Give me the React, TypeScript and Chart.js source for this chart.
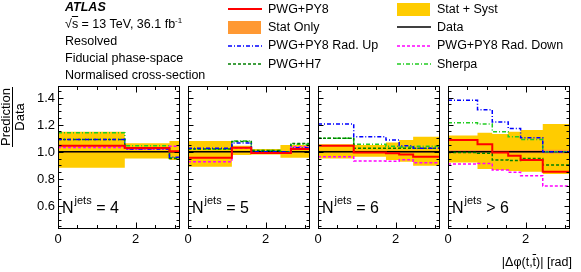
import React, { useEffect, useRef } from 'react';
import { Chart, registerables } from 'chart.js';

Chart.register(...registerables);

const W = 581;
const H = 272;
const FONT = '"Liberation Sans", Arial, Helvetica, sans-serif';

// ---------- axis settings / tick labels ----------
const panelLeft = [58, 188, 318, 448];
const panelWidth = 122;
const plotTop = 86;
const plotBottom = 229;
const Y_MIN = 0.43;
const Y_MAX = 1.485;
const X_MIN = 0;
const X_MAX = 3.1416;
const yTickLabels = [0.6, 0.8, 1.0, 1.2, 1.4];
const xTickLabels = [0, 2];
const njetsLabels = ['= 4', '= 5', '= 6', '> 6'];

// ---------- N_jets = 4 ----------
const edgesNj4 = [0, 1.72, 2.87, 3.1416];
const dataNj4 = [1.0, 1.0, 1.0];
const statHiNj4 = [1.005, 1.004, 1.006];
const statLoNj4 = [0.995, 0.996, 0.994];
const totHiNj4 = [1.148, 1.062, 1.079];
const totLoNj4 = [0.882, 0.951, 0.939];
const pwgPy8Nj4 = [1.045, 1.027, 1.004];
const radUpNj4 = [1.09, 1.02, 0.96];
const radDownNj4 = [1.032, 1.02, 1.04];
const pwgH7Nj4 = [1.09, 1.03, 0.95];
const sherpaNj4 = [1.14, 1.045, 0.955];

// ---------- N_jets = 5 ----------
const edgesNj5 = [0, 1.13, 1.63, 2.38, 2.65, 3.1416];
const dataNj5 = [1.0, 1.0, 1.0, 1.0, 1.0];
const statHiNj5 = [1.006, 1.006, 1.005, 1.006, 1.006];
const statLoNj5 = [0.994, 0.994, 0.995, 0.994, 0.994];
const totHiNj5 = [1.08, 1.044, 1.02, 1.05, 1.05];
const totLoNj5 = [0.89, 0.976, 0.98, 0.956, 0.956];
const pwgPy8Nj5 = [0.955, 1.03, 0.99, 0.99, 1.02];
const radUpNj5 = [1.025, 1.065, 1.0, 1.0, 1.03];
const radDownNj5 = [0.926, 1.025, 0.99, 0.99, 1.037];
const pwgH7Nj5 = [1.02, 1.075, 1.01, 1.0, 1.06];
const sherpaNj5 = [1.02, 1.08, 1.01, 1.0, 1.055];

// ---------- N_jets = 6 ----------
const edgesNj6 = [0, 0.92, 1.75, 2.09, 2.45, 3.1416];
const dataNj6 = [1.0, 1.0, 1.0, 1.0, 1.0];
const statHiNj6 = [1.008, 1.008, 1.008, 1.008, 1.008];
const statLoNj6 = [0.992, 0.992, 0.992, 0.992, 0.992];
const totHiNj6 = [1.055, 1.05, 1.069, 1.086, 1.11];
const totLoNj6 = [0.951, 0.963, 0.939, 0.926, 0.897];
const pwgPy8Nj6 = [1.044, 0.995, 0.988, 0.98, 0.963];
const radUpNj6 = [1.204, 1.11, 1.086, 1.044, 1.025];
const radDownNj6 = [0.963, 0.931, 0.93, 0.94, 0.919];
const pwgH7Nj6 = [1.099, 1.025, 1.025, 1.025, 1.025];
const sherpaNj6 = [1.099, 1.055, 1.04, 1.035, 1.04];

// ---------- N_jets > 6 ----------
const edgesNj7 = [0, 0.76, 1.14, 1.55, 1.87, 2.44, 3.1416];
const dataNj7 = [1.0, 1.0, 1.0, 1.0, 1.0, 1.0];
const statHiNj7 = [1.012, 1.012, 1.012, 1.012, 1.012, 1.014];
const statLoNj7 = [0.988, 0.988, 0.988, 0.988, 0.988, 0.986];
const totHiNj7 = [1.12, 1.14, 1.13, 1.148, 1.16, 1.204];
const totLoNj7 = [0.92, 0.872, 0.865, 0.858, 0.852, 0.835];
const pwgPy8Nj7 = [1.086, 1.055, 0.995, 0.97, 0.939, 0.852];
const radUpNj7 = [1.38, 1.31, 1.22, 1.172, 1.103, 1.0];
const radDownNj7 = [0.91, 0.914, 0.865, 0.848, 0.823, 0.747];
const pwgH7Nj7 = [0.995, 0.988, 0.939, 0.935, 0.951, 0.902];
const sherpaNj7 = [1.214, 1.204, 1.148, 1.11, 1.09, 1.0];

const panels = [
  { edges: edgesNj4, data: dataNj4, statHi: statHiNj4, statLo: statLoNj4, totHi: totHiNj4, totLo: totLoNj4, pwg: pwgPy8Nj4, up: radUpNj4, down: radDownNj4, h7: pwgH7Nj4, sherpa: sherpaNj4 },
  { edges: edgesNj5, data: dataNj5, statHi: statHiNj5, statLo: statLoNj5, totHi: totHiNj5, totLo: totLoNj5, pwg: pwgPy8Nj5, up: radUpNj5, down: radDownNj5, h7: pwgH7Nj5, sherpa: sherpaNj5 },
  { edges: edgesNj6, data: dataNj6, statHi: statHiNj6, statLo: statLoNj6, totHi: totHiNj6, totLo: totLoNj6, pwg: pwgPy8Nj6, up: radUpNj6, down: radDownNj6, h7: pwgH7Nj6, sherpa: sherpaNj6 },
  { edges: edgesNj7, data: dataNj7, statHi: statHiNj7, statLo: statLoNj7, totHi: totHiNj7, totLo: totLoNj7, pwg: pwgPy8Nj7, up: radUpNj7, down: radDownNj7, h7: pwgH7Nj7, sherpa: sherpaNj7 },
];

// ---------- styles ----------
const C_RED = '#ff0000';
const C_BLUE = '#0000ff';
const C_MAGENTA = '#ff00ff';
const C_DKGREEN = '#008000';
const C_LTGREEN = '#22cc22';
const C_YELLOW = '#ffcc00';
const C_ORANGE = '#ff9933';
const STEP = 'before';

function stepPoints(edges: number[], vals: number[]) {
  const pts = vals.map((v, i) => ({ x: edges[i], y: v }));
  pts.push({ x: edges[edges.length - 1], y: vals[vals.length - 1] });
  return pts;
}

function makeFramePlugin(idx: number) {
  return {
    id: 'rootFrame' + idx,
    afterDraw(chart: any) {
      const ctx = chart.ctx;
      const a = chart.chartArea;
      const xs = chart.scales.x;
      const ys = chart.scales.y;
      ctx.save();
      ctx.strokeStyle = '#000';
      ctx.lineWidth = 1;
      const L = Math.round(a.left) + 0.5;
      const R = Math.round(a.right) - 0.5;
      const T = Math.round(a.top) + 0.5;
      const B = Math.round(a.bottom) - 0.5;
      ctx.strokeRect(L, T, R - L, B - T);
      ctx.beginPath();
      const k0 = Math.ceil(Y_MIN / 0.05 - 1e-6);
      const k1 = Math.floor(Y_MAX / 0.05 + 1e-6);
      for (let k = k0; k <= k1; k++) {
        const v = k * 0.05;
        const py = Math.round(ys.getPixelForValue(v)) + 0.5;
        const len = k % 4 === 0 ? 5 : 3;
        ctx.moveTo(L, py);
        ctx.lineTo(L + len, py);
        ctx.moveTo(R, py);
        ctx.lineTo(R - len, py);
      }
      for (let k = 1; k * 0.5 < X_MAX; k++) {
        const v = k * 0.5;
        const px = Math.round(xs.getPixelForValue(v)) + 0.5;
        const len = k % 4 === 0 ? 6 : 3.5;
        ctx.moveTo(px, B);
        ctx.lineTo(px, B - len);
        ctx.moveTo(px, T);
        ctx.lineTo(px, T + len);
      }
      ctx.stroke();

      ctx.fillStyle = '#000';
      ctx.font = '13px ' + FONT;
      ctx.textAlign = 'center';
      ctx.textBaseline = 'top';
      xTickLabels.forEach((v) => {
        ctx.fillText(String(v), xs.getPixelForValue(v), a.bottom + 4);
      });
      if (idx === 0) {
        ctx.textAlign = 'right';
        ctx.textBaseline = 'middle';
        yTickLabels.forEach((v) => {
          ctx.fillText(v.toFixed(1), a.left - 3, ys.getPixelForValue(v) + 0.5);
        });
      }
      ctx.restore();
    },
  };
}

function lineDs(label: string, pts: any[], color: string, width: number, dash: number[], order: number) {
  return {
    label,
    data: pts,
    borderColor: color,
    backgroundColor: color,
    borderWidth: width,
    borderDash: dash,
    stepped: STEP,
    fill: false,
    pointRadius: 0,
    order,
  };
}

function Panel({ idx }: { idx: number }) {
  const ref = useRef<HTMLCanvasElement>(null);
  useEffect(() => {
    const p = panels[idx];
    const e = p.edges;
    const left = panelLeft[idx];
    const chart = new Chart(ref.current as HTMLCanvasElement, {
      type: 'line',
      data: {
        datasets: [
          { label: 'totHi', data: stepPoints(e, p.totHi), borderWidth: 0, borderColor: 'rgba(0,0,0,0)', backgroundColor: C_YELLOW, stepped: STEP, fill: '+1', pointRadius: 0, order: 20 },
          { label: 'totLo', data: stepPoints(e, p.totLo), borderWidth: 0, borderColor: 'rgba(0,0,0,0)', stepped: STEP, fill: false, pointRadius: 0, order: 21 },
          { label: 'statHi', data: stepPoints(e, p.statHi), borderWidth: 0, borderColor: 'rgba(0,0,0,0)', backgroundColor: C_ORANGE, stepped: STEP, fill: '+1', pointRadius: 0, order: 18 },
          { label: 'statLo', data: stepPoints(e, p.statLo), borderWidth: 0, borderColor: 'rgba(0,0,0,0)', stepped: STEP, fill: false, pointRadius: 0, order: 19 },
          lineDs('Data', stepPoints(e, p.data), '#000000', 1.7, [], 10),
          lineDs('Sherpa', stepPoints(e, p.sherpa), C_LTGREEN, 1.5, [4, 2, 1, 2], 6),
          lineDs('PWG+H7', stepPoints(e, p.h7), C_DKGREEN, 1.5, [3, 2], 5),
          lineDs('PWG+PY8 Rad. Down', stepPoints(e, p.down), C_MAGENTA, 1.5, [3, 2], 4),
          lineDs('PWG+PY8 Rad. Up', stepPoints(e, p.up), C_BLUE, 1.5, [4, 2, 1, 2], 3),
          lineDs('PWG+PY8', stepPoints(e, p.pwg), C_RED, 2, [], 1),
        ] as any,
      },
      options: {
        animation: false,
        responsive: false,
        maintainAspectRatio: false,
        events: [],
        layout: {
          padding: { left: left, right: W - left - panelWidth, top: plotTop, bottom: H - plotBottom },
        },
        plugins: { legend: { display: false }, tooltip: { enabled: false } },
        scales: {
          x: { type: 'linear', min: X_MIN, max: X_MAX, display: false },
          y: { type: 'linear', min: Y_MIN, max: Y_MAX, display: false },
        },
        elements: { point: { radius: 0 }, line: { tension: 0 } },
      } as any,
      plugins: [makeFramePlugin(idx)],
    });
    return () => chart.destroy();
  }, [idx]);
  return (
    <canvas
      ref={ref}
      width={W}
      height={H}
      style={{ position: 'absolute', left: 0, top: 0, width: W, height: H }}
    />
  );
}

const txt: React.CSSProperties = {
  position: 'absolute',
  fontFamily: FONT,
  fontSize: 12.5,
  lineHeight: '15px',
  whiteSpace: 'nowrap',
  color: '#000',
};

function LineSwatch({ color, width, dash }: { color: string; width: number; dash?: string }) {
  return (
    <svg width={34} height={6} style={{ display: 'block' }}>
      <line x1={0} y1={3} x2={34} y2={3} stroke={color} strokeWidth={width} strokeDasharray={dash} />
    </svg>
  );
}

const legendCol1 = 228;
const legendCol2 = 397;
const legendRows = [9, 27, 45.5, 64];

function LegendEntry({ x, row, label, kind, color, dash, width }: any) {
  const cy = legendRows[row];
  return (
    <>
      {kind === 'box' ? (
        <div style={{ position: 'absolute', left: x, top: cy - 6.5, width: 33, height: 13, background: color }} />
      ) : (
        <div style={{ position: 'absolute', left: x, top: cy - 3 }}>
          <LineSwatch color={color} width={width} dash={dash} />
        </div>
      )}
      <div style={{ ...txt, left: x + 40, top: cy - 7.5 }}>{label}</div>
    </>
  );
}

export default function App() {
  const leftLines = [7, 24.5, 41.5, 58.5, 75];
  return (
    <div style={{ position: 'absolute', left: 0, top: 0, width: W, height: H, background: '#fff', overflow: 'hidden' }}>
      {[0, 1, 2, 3].map((i) => (
        <Panel key={i} idx={i} />
      ))}

      <div style={{ ...txt, left: 65, top: leftLines[0] - 7.5, fontWeight: 'bold', fontStyle: 'italic' }}>ATLAS</div>
      <div style={{ ...txt, left: 65, top: leftLines[1] - 7.5 }}>
        √<span style={{ textDecoration: 'overline' }}>s</span> = 13 TeV, 36.1 fb
        <span style={{ fontSize: 8, position: 'relative', top: -5 }}>-1</span>
      </div>
      <div style={{ ...txt, left: 65, top: leftLines[2] - 7.5 }}>Resolved</div>
      <div style={{ ...txt, left: 65, top: leftLines[3] - 7.5 }}>Fiducial phase-space</div>
      <div style={{ ...txt, left: 65, top: leftLines[4] - 7.5 }}>Normalised cross-section</div>

      <LegendEntry x={legendCol1} row={0} label="PWG+PY8" kind="line" color={C_RED} width={2} />
      <LegendEntry x={legendCol1} row={1} label="Stat Only" kind="box" color={C_ORANGE} />
      <LegendEntry x={legendCol1} row={2} label="PWG+PY8 Rad. Up" kind="line" color={C_BLUE} width={1.5} dash="4 2 1 2" />
      <LegendEntry x={legendCol1} row={3} label="PWG+H7" kind="line" color={C_DKGREEN} width={1.5} dash="3 2" />
      <LegendEntry x={legendCol2} row={0} label="Stat + Syst" kind="box" color={C_YELLOW} />
      <LegendEntry x={legendCol2} row={1} label="Data" kind="line" color="#000" width={1.7} />
      <LegendEntry x={legendCol2} row={2} label="PWG+PY8 Rad. Down" kind="line" color={C_MAGENTA} width={1.5} dash="3 2" />
      <LegendEntry x={legendCol2} row={3} label="Sherpa" kind="line" color={C_LTGREEN} width={1.5} dash="4 2 1 2" />

      <div
        style={{
          position: 'absolute',
          left: 13 - 35,
          top: 117 - 14,
          width: 70,
          height: 28,
          transform: 'rotate(-90deg)',
          fontFamily: FONT,
          fontSize: 13,
          color: '#000',
          textAlign: 'center',
        }}
      >
        <div style={{ lineHeight: '13px', height: 13 }}>Prediction</div>
        <div style={{ borderTop: '1px solid #000', width: 60, margin: '0 auto' }} />
        <div style={{ lineHeight: '13px', height: 13 }}>Data</div>
      </div>

      {njetsLabels.map((lab, i) => (
        <div
          key={i}
          style={{ position: 'absolute', left: panelLeft[i] + 4, top: 199.5, fontFamily: FONT, fontSize: 16, lineHeight: '16px', whiteSpace: 'nowrap', color: '#000' }}
        >
          N
          <span style={{ fontSize: 11, position: 'relative', top: -9, marginLeft: 1 }}>jets</span>
          {' ' + lab}
        </div>
      ))}

      <div style={{ ...txt, right: W - 572, top: 255 }}>
        |Δφ(t,<span style={{ textDecoration: 'overline' }}>t</span>)| [rad]
      </div>
    </div>
  );
}
